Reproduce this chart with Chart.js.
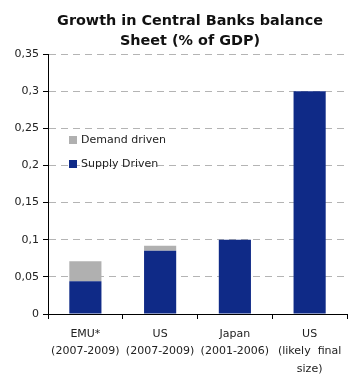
<!DOCTYPE html>
<html>
<head>
<meta charset="utf-8">
<script src="https://cdn.jsdelivr.net/npm/chart.js@4"></script>
<style>
  html, body { margin: 0; padding: 0; background: #fff; }
  #wrap { width: 348px; height: 374px; }
</style>
</head>
<body>
<div id="wrap"><canvas id="plotChart" width="348" height="374"></canvas></div>
<script>
// Chart data
const titleLines = ["Growth in Central Banks balance", "Sheet (% of GDP)"];
const categories = [
  ["EMU*", "(2007-2009)"],
  ["US", "(2007-2009)"],
  ["Japan", "(2001-2006)"],
  ["US", "(likely  final", "size)"]
];
const supplyDriven = [0.044, 0.085, 0.1, 0.3];
const demandDriven = [0.027, 0.007, 0, 0];
const yTicks = [0, 0.05, 0.1, 0.15, 0.2, 0.25, 0.3, 0.35];

const blue = "#0f2a87";
const grey = "#b0b0b0";

// Title drawn by hand so it can sit slightly right of centre, like the original
const titlePlugin = {
  id: "titleText",
  afterDraw(chart) {
    const c = chart.ctx;
    c.save();
    c.fillStyle = "#111";
    c.font = "bold 14.4px 'DejaVu Sans'";
    c.textAlign = "center";
    c.textBaseline = "alphabetic";
    c.fillText(titleLines[0], 190, 25);
    c.fillText(titleLines[1], 190, 45);
    c.restore();
  },
};

// Legend inside the plot, top-left, demand first
const legendPlugin = {
  id: "innerLegend",
  afterDraw(chart) {
    const c = chart.ctx;
    const sets = chart.data.datasets.slice().reverse();
    c.save();
    c.font = "11px 'DejaVu Sans'";
    c.textBaseline = "middle";
    c.textAlign = "left";
    sets.forEach((ds, i) => {
      const y = 140 + i * 24;
      c.fillStyle = ds.backgroundColor;
      c.fillRect(69, y - 4, 8, 8);
      c.fillStyle = "#222";
      c.fillText(ds.label, 81, y);
    });
    c.restore();
  },
};

var ctx = document.getElementById("plotChart").getContext("2d");
var plotChart = new Chart(ctx, {
  type: "bar",
  data: {
    labels: categories,
    datasets: [
      {
        label: "Supply Driven",
        data: supplyDriven,
        backgroundColor: blue,
        barPercentage: 0.43,
        categoryPercentage: 1,
      },
      {
        label: "Demand driven",
        data: demandDriven,
        backgroundColor: grey,
        barPercentage: 0.43,
        categoryPercentage: 1,
      },
    ],
  },
  options: {
    responsive: false,
    animation: false,
    layout: {
      padding: { top: 54, right: 1, left: 0, bottom: 0 },
    },
    plugins: {
      legend: { display: false },
      title: { display: false },
      tooltip: { enabled: false },
    },
    scales: {
      x: {
        stacked: true,
        afterFit: (scale) => {
          scale.height = 60;
        },
        grid: {
          display: true,
          drawOnChartArea: false,
          offset: true,
          tickLength: 5,
          tickColor: "#000",
          color: "#000",
        },
        border: { display: true, color: "#000", width: 1 },
        ticks: {
          color: "#222",
          font: { family: "'DejaVu Sans'", size: 11, lineHeight: 1.6 },
          maxRotation: 0,
          autoSkip: false,
          padding: 6,
        },
      },
      y: {
        stacked: true,
        min: 0,
        max: 0.35,
        afterBuildTicks: (scale) => {
          scale.ticks = yTicks.map((v) => ({ value: v }));
        },
        afterFit: (scale) => {
          scale.width = 48;
        },
        grid: {
          color: "#b4b4b4",
          tickColor: "#000",
          tickLength: 5,
          tickBorderDash: [],
        },
        border: { display: true, color: "#000", width: 1, dash: [7, 5] },
        ticks: {
          color: "#222",
          font: { family: "'DejaVu Sans'", size: 11 },
          padding: 4,
          callback: (value) => String(value).replace(".", ","),
        },
      },
    },
  },
  plugins: [titlePlugin, legendPlugin],
});
</script>
</body>
</html>
